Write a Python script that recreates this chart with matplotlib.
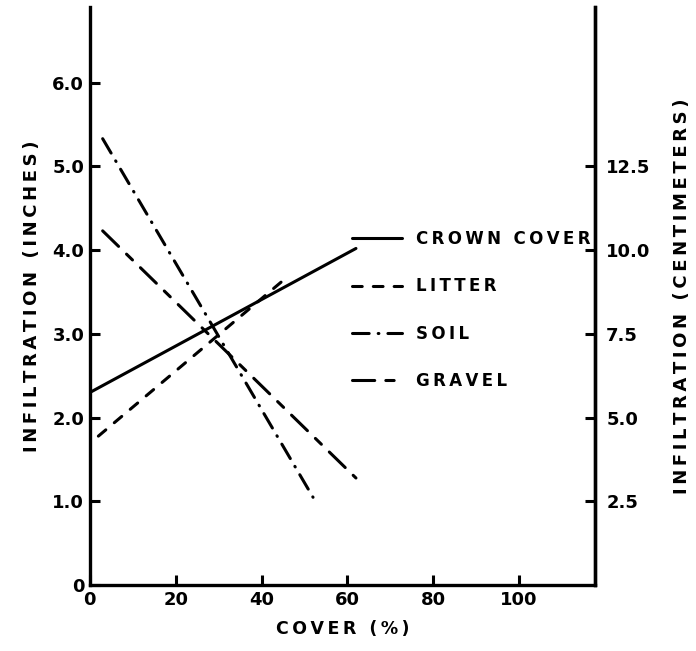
import matplotlib
matplotlib.use("Agg")
import matplotlib.pyplot as plt

plt.rcParams['font.family'] = 'DejaVu Sans'
plt.rcParams['font.weight'] = 'bold'
plt.rcParams['axes.labelweight'] = 'bold'
plt.rcParams['lines.scale_dashes'] = False

# end points of the fitted lines, cover (%) vs infiltration (inches)
crown_x = [0, 62]
crown_y = [2.3, 4.02]
litter_x = [2, 46]
litter_y = [1.78, 3.68]
soil_x = [3, 52]
soil_y = [5.33, 1.05]
gravel_x = [3, 62]
gravel_y = [4.23, 1.28]

x_ticks = [0, 20, 40, 60, 80, 100]
in_ticks = [0, 1, 2, 3, 4, 5, 6]
in_labels = ["0", "1.0", "2.0", "3.0", "4.0", "5.0", "6.0"]
cm_ticks = [2.5, 5.0, 7.5, 10.0, 12.5]


def spaced(s):
    # lettering on the old drafting sheets is widely tracked
    return "\u2009".join(s)


fig = plt.figure(figsize=(6.96, 6.51), dpi=100)
ax = fig.add_axes([0.129, 0.101, 0.726, 0.888])

lw = 2.2
style = dict(color='black', lw=lw, dash_capstyle='round', solid_capstyle='round')
ax.plot(crown_x, crown_y, label=spaced('CROWN COVER'), **style)
ax.plot(litter_x, litter_y, dashes=(7, 8), label=spaced('LITTER'), **style)
ax.plot(soil_x, soil_y, dashes=(12, 6.5, 0.5, 6.5), label=spaced('SOIL'), **style)
ax.plot(gravel_x, gravel_y, dashes=(16, 8, 6, 8), label=spaced('GRAVEL'), **style)

ax.set_xlim(0, 117.7)
ax.set_ylim(0, 6.9)
ax.set_xticks(x_ticks)
ax.set_xticklabels([str(t) for t in x_ticks], fontsize=13)
ax.set_yticks(in_ticks)
ax.set_yticklabels(in_labels, fontsize=13)
ax.tick_params(direction='in', length=7, width=2.2, pad=4)
ax.spines['top'].set_visible(False)
for s in ['left', 'bottom', 'right']:
    ax.spines[s].set_linewidth(2.4)

ax.set_xlabel(spaced("COVER (%)"), fontsize=12.5, labelpad=8)
ax.set_ylabel(spaced("INFILTRATION (INCHES)"), fontsize=13, labelpad=8)

# centimetre scale on the right
ax2 = ax.twinx()
ax2.set_ylim(0, 6.9 * 2.5)
ax2.set_yticks(cm_ticks)
ax2.set_yticklabels(["%.1f" % t for t in cm_ticks], fontsize=13)
ax2.tick_params(direction='in', length=7, width=2.2, pad=8)
ax2.spines['top'].set_visible(False)
ax2.spines['right'].set_linewidth(2.4)
ax2.set_ylabel(spaced("INFILTRATION (CENTIMETERS)"), fontsize=13, labelpad=16)

leg = ax.legend(loc='upper left', bbox_to_anchor=(0.49, 0.64), frameon=False,
                handlelength=3.0, handletextpad=0.8, labelspacing=1.75,
                prop={'size': 12, 'weight': 'bold'})

fig.savefig("out.png", dpi=100)
